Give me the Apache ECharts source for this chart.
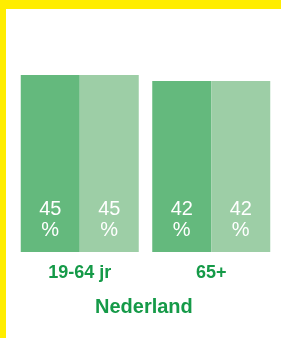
<!DOCTYPE html>
<html>
<head>
<meta charset="utf-8">
<script src="https://cdn.jsdelivr.net/npm/echarts@6/dist/echarts.min.js"></script>
<style>
html,body{margin:0;padding:0;background:#fff;}
#c{width:281px;height:338px;}
</style>
</head>
<body>
<div id="c"></div>
<script>
const categories = ['19-64 jr', '65+'];
const seriesA = [45, 42];
const seriesB = [45, 42];
const titleText = 'Nederland';

const green = '#159a48';
const chart = echarts.init(document.getElementById('c'), null, {renderer: 'canvas'});
const labelStyle = {
  show: true,
  position: 'insideBottom',
  distance: 11,
  color: '#ffffff',
  fontFamily: 'Liberation Sans, Arial, sans-serif',
  fontSize: 20,
  lineHeight: 21,
  formatter: p => p.value + '\n%'
};
chart.setOption({
  animation: false,
  backgroundColor: '#ffffff',
  title: {
    text: titleText,
    left: 95, top: 297, padding: 0,
    textStyle: {color: green, fontSize: 20, fontWeight: 'bold', fontFamily: 'Liberation Sans, Arial, sans-serif'}
  },
  grid: {left: 14, right: 4, top: 55, height: 197},
  xAxis: {
    type: 'category',
    data: categories,
    axisLine: {show: false},
    axisTick: {show: false},
    axisLabel: {color: green, fontSize: 18, fontWeight: 'bold', margin: 12, fontFamily: 'Liberation Sans, Arial, sans-serif'}
  },
  yAxis: {type: 'value', min: -43.5, max: 55, startValue: -43.5, show: false, splitLine: {show: false}},
  series: [
    {type: 'bar', data: seriesA, barWidth: 59, barGap: '0%', itemStyle: {color: '#64b97d'}, label: labelStyle},
    {type: 'bar', data: seriesB, barWidth: 59, barGap: '0%', itemStyle: {color: '#9dcea6'}, label: labelStyle}
  ],
  graphic: [
    {type: 'rect', shape: {x: 0, y: 0, width: 281, height: 9}, style: {fill: '#ffed00'}},
    {type: 'rect', shape: {x: 0, y: 0, width: 6, height: 338}, style: {fill: '#ffed00'}}
  ]
});
</script>
</body>
</html>
